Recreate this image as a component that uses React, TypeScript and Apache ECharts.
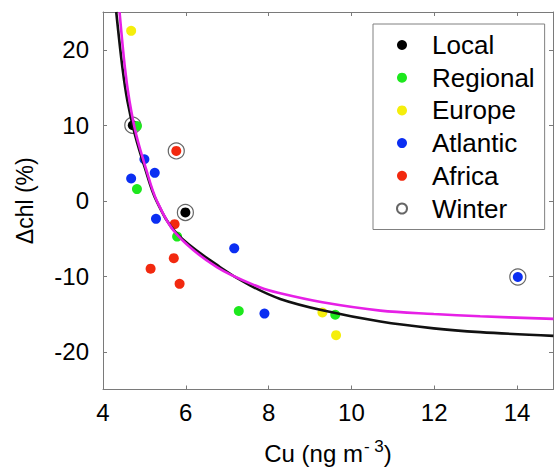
import React, { useEffect, useRef } from "react";
import * as echarts from "echarts";

const FONT = "Liberation Sans, Arial, Helvetica, sans-serif";

const seriesNames = ["Local", "Regional", "Europe", "Atlantic", "Africa", "Winter"];
const seriesColors = ["#000000", "#1de81d", "#f5ee0c", "#0b2ef2", "#f2290f", "#ffffff"];

const localPts = [
  [4.72, 10.0],
  [5.99, -1.55],
];
const regionalPts = [
  [4.82, 9.9],
  [4.82, 1.55],
  [5.79, -4.75],
  [7.28, -14.6],
  [9.61, -15.1],
];
const europePts = [
  [4.68, 22.5],
  [9.3, -14.8],
  [9.63, -17.8],
];
const atlanticPts = [
  [5.0, 5.5],
  [5.25, 3.7],
  [4.68, 2.95],
  [5.28, -2.4],
  [7.17, -6.3],
  [7.9, -14.95],
  [14.02, -10.1],
];
const africaPts = [
  [5.77, 6.6],
  [5.73, -3.1],
  [5.71, -7.6],
  [5.15, -9.0],
  [5.85, -11.0],
];
const winterPts = [
  [4.72, 10.0],
  [5.77, 6.6],
  [5.99, -1.55],
  [14.02, -10.1],
];

const blackCurve = [
  [4.32, 25.0],
  [4.47, 17.6],
  [4.59, 13.2],
  [4.77, 8.8],
  [5.01, 4.4],
  [5.29, 0.0],
  [5.79, -4.4],
  [6.83, -8.8],
  [7.55, -11.2],
  [8.28, -13.0],
  [9.3, -14.5],
  [10.7, -16.0],
  [11.99, -16.9],
  [13.11, -17.4],
  [14.88, -17.9],
];
const magentaCurve = [
  [4.4, 25.0],
  [4.53, 17.6],
  [4.64, 13.2],
  [4.8, 8.8],
  [5.03, 4.4],
  [5.3, 0.0],
  [5.77, -4.4],
  [6.75, -8.8],
  [7.8, -11.5],
  [8.28, -12.26],
  [9.3, -13.45],
  [10.7, -14.55],
  [11.99, -15.0],
  [13.11, -15.3],
  [14.88, -15.65],
];

const xTicks = { min: 4, max: 14.87, interval: 2 };
const yTicks = { min: -25, max: 25 };

export default function App() {
  const ref = useRef<HTMLDivElement>(null);
  useEffect(() => {
    if (!ref.current) return;
    const chart = echarts.init(ref.current, null, { renderer: "svg" });
    const axisGray = "#7a7a7a";
    const baseX = {
      type: "value",
      min: xTicks.min,
      max: xTicks.max,
      interval: xTicks.interval,
      splitLine: { show: false },
      axisLine: { show: true, onZero: false, lineStyle: { color: axisGray, width: 1 } },
      axisTick: { show: true, inside: true, length: 4, lineStyle: { color: axisGray } },
    };
    const baseY = {
      type: "value",
      min: yTicks.min,
      max: yTicks.max,
      splitNumber: 5,
      splitLine: { show: false },
      axisLine: { show: true, onZero: false, lineStyle: { color: axisGray, width: 1 } },
      axisTick: { show: true, inside: true, length: 4, lineStyle: { color: axisGray } },
    };
    const scatter = (name: string, data: number[][], color: string) => ({
      name,
      type: "scatter",
      data,
      symbol: "circle",
      symbolSize: 10,
      z: 3,
      itemStyle: { color, opacity: 1 },
    });
    chart.setOption({
      animation: false,
      backgroundColor: "#ffffff",
      textStyle: { fontFamily: FONT },
      grid: { left: 103, right: 1, top: 12, bottom: 80, containLabel: false },
      xAxis: [
        {
          ...baseX,
          position: "bottom",
          name: "{a|Cu (ng m}{s|- 3}{a|)}",
          nameLocation: "middle",
          nameGap: 48,
          nameTextStyle: {
            rich: {
              a: { fontSize: 24, fontFamily: FONT, color: "#000" },
              s: { fontSize: 17, fontFamily: FONT, color: "#000", padding: [0, 0, 14, 1] },
            },
          },
          axisLabel: {
            show: true,
            fontSize: 24,
            fontFamily: FONT,
            color: "#000",
            margin: 11,
            showMaxLabel: false,
          },
        },
        {
          ...baseX,
          position: "top",
          axisLabel: { show: false },
        },
      ],
      yAxis: [
        {
          ...baseY,
          position: "left",
          name: "Δchl (%)",
          nameLocation: "middle",
          nameRotate: 90,
          nameGap: 67,
          nameTextStyle: { fontSize: 23, fontFamily: FONT, color: "#000" },
          axisLabel: {
            show: true,
            fontSize: 24,
            fontFamily: FONT,
            color: "#000",
            margin: 14,
            showMinLabel: false,
            showMaxLabel: false,
          },
        },
        {
          ...baseY,
          position: "right",
          axisLabel: { show: false },
        },
      ],
      legend: {
        show: true,
        orient: "vertical",
        left: 373,
        top: 24,
        padding: [8, 10, 8, 23],
        itemGap: 6.7,
        itemWidth: 10,
        itemHeight: 10,
        backgroundColor: "#ffffff",
        borderColor: "#808080",
        borderWidth: 1,
        borderRadius: 0,
        data: seriesNames,
        textStyle: { fontSize: 26, fontFamily: FONT, color: "#000", padding: [0, 0, 0, 20] },
      },
      series: [
        {
          name: "Winter",
          type: "scatter",
          data: winterPts,
          symbol: "circle",
          symbolSize: 16,
          z: 2,
          itemStyle: { color: seriesColors[5], borderColor: "#666666", borderWidth: 1.2, opacity: 1 },
        },
        scatter("Local", localPts, seriesColors[0]),
        scatter("Regional", regionalPts, seriesColors[1]),
        scatter("Europe", europePts, seriesColors[2]),
        scatter("Atlantic", atlanticPts, seriesColors[3]),
        scatter("Africa", africaPts, seriesColors[4]),
        {
          name: "fitBlack",
          type: "line",
          data: blackCurve,
          smooth: 0.35,
          showSymbol: false,
          symbol: "none",
          z: 4,
          clip: true,
          lineStyle: { color: "#111111", width: 2.6 },
        },
        {
          name: "fitMagenta",
          type: "line",
          data: magentaCurve,
          smooth: 0.35,
          showSymbol: false,
          symbol: "none",
          z: 5,
          clip: true,
          lineStyle: { color: "#e620e6", width: 2.6 },
        },
      ],
    });
    return () => chart.dispose();
  }, []);
  return (
    <div
      ref={ref}
      style={{ position: "fixed", left: 0, top: 0, width: 554, height: 470 }}
    />
  );
}
